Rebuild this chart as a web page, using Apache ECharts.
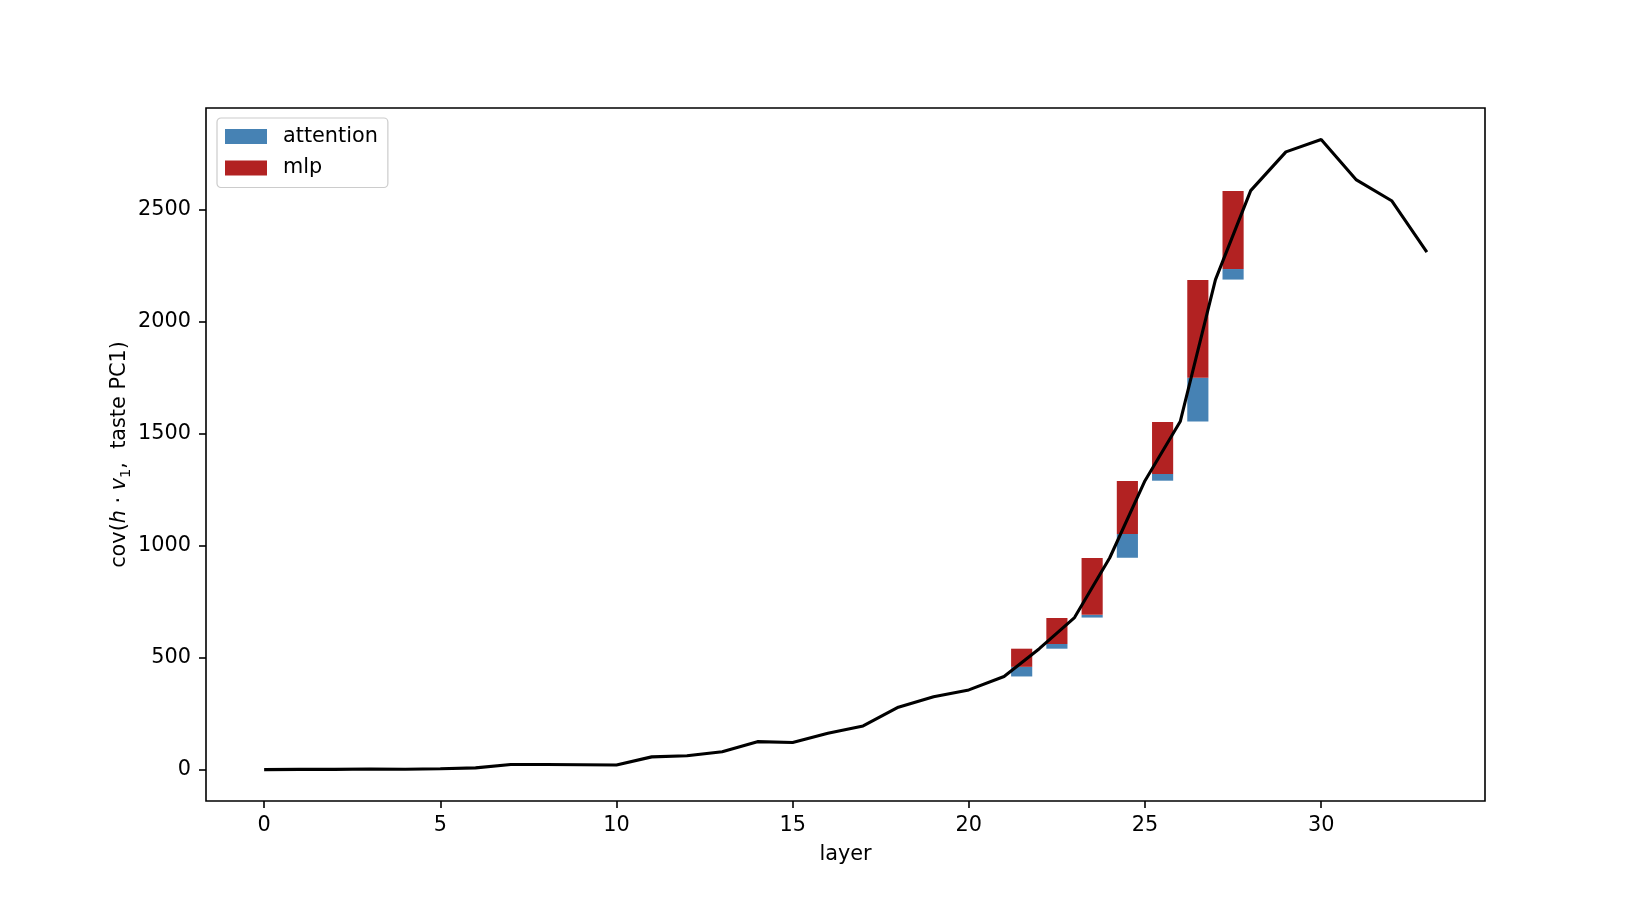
<!DOCTYPE html>
<html>
<head>
<meta charset="utf-8">
<script src="https://cdn.jsdelivr.net/npm/echarts@6/dist/echarts.min.js"></script>
<style>html,body{margin:0;padding:0;background:#fff}#c{width:1650px;height:900px}</style>
</head>
<body>
<div id="c"></div>
<script>
// line: covariance per layer
const layers = [0,1,2,3,4,5,6,7,8,9,10,11,12,13,14,15,16,17,18,19,20,21,22,23,24,25,26,27,28,29,30,31,32,33];
const covValues = [0,1,1,3,2,4,8,23,23,22,21,57,62,80,125,121,162,195,279,325,356,416,540,679,946,1290,1554,2188,2585,2758,2813,2633,2540,2311];
// decomposition bars (drawn between layer l and l+1)
const barLayers = [21,22,23,24,25,26,27];
const attentionValues = [43,21,12,106,30,196,47];
const mlpValues = [81,116,254,237,232,436,348];
const xTicks = [0,5,10,15,20,25,30];
const yTicks = [0,500,1000,1500,2000,2500];

const FONT = 'DejaVu Sans';
const FS = 20.8;
const BAR_W = 0.6;

const attnData = barLayers.map((l,i)=>{const b=covValues[l];return [l+0.5,b,b+attentionValues[i]];});
const mlpData = barLayers.map((l,i)=>{const b=covValues[l]+attentionValues[i];return [l+0.5,b,b+mlpValues[i]];});

function renderBar(params, api){
  const x = api.value(0), lo = api.value(1), hi = api.value(2);
  const p1 = api.coord([x-BAR_W/2, hi]);
  const p2 = api.coord([x+BAR_W/2, lo]);
  return {type:'rect', shape:{x:p1[0], y:p1[1], width:p2[0]-p1[0], height:p2[1]-p1[1]},
          style:{fill: api.visual('color')}};
}

const chart = echarts.init(document.getElementById('c'), null, {renderer:'canvas'});
chart.setOption({
  animation:false,
  backgroundColor:'#fff',
  textStyle:{fontFamily:FONT, color:'#000'},
  grid:{left:206, right:165, top:108, bottom:99, show:true, borderColor:'#000', borderWidth:1.6, backgroundColor:'transparent'},
  legend:{
    left:217, top:118, orient:'vertical', icon:'rect', itemWidth:42, itemHeight:15, itemGap:10.5,
    padding:[8,10,9,8], backgroundColor:'rgba(255,255,255,0.8)', borderColor:'#cccccc', borderWidth:1.2, borderRadius:4,
    textStyle:{fontFamily:FONT, fontSize:FS, color:'#000', lineHeight:21, padding:[0,0,0,11]},
    data:['attention','mlp']
  },
  xAxis:{
    type:'value', min:-1.65, max:34.65,
    name:'layer', nameLocation:'middle', nameGap:43, nameMoveOverlap:false,
    nameTextStyle:{fontFamily:FONT, fontSize:FS, color:'#000'},
    axisLine:{show:false, onZero:false},
    axisTick:{show:true, length:7, lineStyle:{color:'#000', width:1.6}, customValues:xTicks},
    axisLabel:{fontFamily:FONT, fontSize:FS, color:'#000', margin:14, customValues:xTicks, formatter:v=>String(v)},
    splitLine:{show:false}
  },
  yAxis:{
    type:'value', min:-140, max:2954,
    name:'{n|cov(}{i|h}{n| · }{i|v}{s|1}{n|,  taste PC1)}', nameLocation:'middle', nameGap:72, nameRotate:90,
    nameMoveOverlap:false,
    nameTextStyle:{fontFamily:FONT, fontSize:FS, color:'#000',
      rich:{
        n:{fontFamily:FONT, fontSize:FS, color:'#000', lineHeight:28, verticalAlign:'middle'},
        i:{fontFamily:FONT, fontSize:FS, fontStyle:'italic', color:'#000', lineHeight:28, verticalAlign:'middle'},
        s:{fontFamily:FONT, fontSize:14.5, color:'#000', lineHeight:28, verticalAlign:'bottom'}
      }},
    axisLine:{show:false, onZero:false},
    axisTick:{show:true, length:7, lineStyle:{color:'#000', width:1.6}, customValues:yTicks},
    axisLabel:{fontFamily:FONT, fontSize:FS, color:'#000', margin:15, customValues:yTicks, formatter:v=>String(v)},
    splitLine:{show:false}
  },
  series:[
    {name:'attention', type:'custom', renderItem:renderBar, data:attnData, itemStyle:{color:'#4682B4'},
     encode:{x:0, y:[1,2]}, z:2},
    {name:'mlp', type:'custom', renderItem:renderBar, data:mlpData, itemStyle:{color:'#B22222'},
     encode:{x:0, y:[1,2]}, z:2},
    {name:'cov', type:'line', data:layers.map((l,i)=>[l, covValues[i]]), showSymbol:false, symbol:'none',
     lineStyle:{color:'#000', width:3.1}, itemStyle:{color:'#000'}, z:3}
  ]
});
</script>
</body>
</html>
